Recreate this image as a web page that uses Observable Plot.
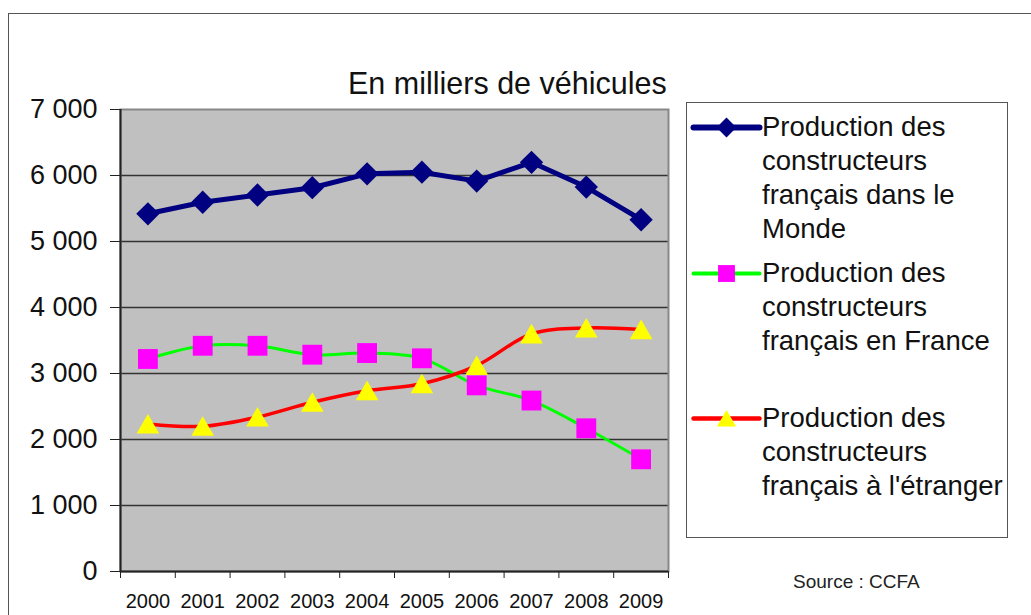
<!DOCTYPE html>
<html>
<head>
<meta charset="utf-8">
<script src="https://cdn.jsdelivr.net/npm/d3@7"></script>
<script src="https://cdn.jsdelivr.net/npm/@observablehq/plot@0.6"></script>
<style>
  html, body { margin: 0; padding: 0; background: #fff; }
  body { font-family: "Liberation Sans", Arial, sans-serif; color: #111; }
  #wrap { position: relative; width: 1031px; height: 615px; overflow: hidden; }
  #frame { position: absolute; left: 8px; top: 13px; width: 1100px; height: 700px;
           border-left: 1.5px solid #555; border-top: 1.5px solid #555; }
  #chart { position: absolute; left: 0; top: 0; width: 1031px; height: 615px; }
  #chart svg { max-width: none; }
  #title { position: absolute; left: 348px; top: 66px; font-size: 30.5px; line-height: 34px; white-space: nowrap; }
  #legend { position: absolute; left: 686px; top: 102px; width: 322px; height: 436px;
            border: 1.5px solid #555; box-sizing: border-box; }
  .entry { position: absolute; left: 0; width: 320px; height: 140px; }
  .entry svg { position: absolute; left: 6px; top: 0; max-width: none; }
  .entry .txt { position: absolute; left: 75px; top: 0; font-size: 27.5px; line-height: 34px; white-space: nowrap; }
  #source { position: absolute; left: 793px; top: 571px; font-size: 19px; line-height: 22px; color: #222; white-space: nowrap; }
</style>
</head>
<body>
<div id="wrap">
  <div id="frame"></div>
  <div id="chart"></div>
  <div id="title"></div>
  <div id="legend"></div>
  <div id="source"></div>
</div>
<script>
// ---- data ----
const years = [2000, 2001, 2002, 2003, 2004, 2005, 2006, 2007, 2008, 2009];
const monde = [5420, 5595, 5705, 5815, 6025, 6050, 5915, 6200, 5825, 5330];
const france = [3220, 3420, 3420, 3285, 3310, 3230, 2820, 2590, 2170, 1700];
const etranger = [2235, 2200, 2340, 2565, 2740, 2845, 3120, 3600, 3690, 3665];
const yTicks = [0, 1000, 2000, 3000, 4000, 5000, 6000, 7000];
const seriesNames = [
  "Production des constructeurs français dans le Monde",
  "Production des constructeurs français en France",
  "Production des constructeurs français à l'étranger"
];
const legendLines = [
  ["Production des", "constructeurs", "français dans le", "Monde"],
  ["Production des", "constructeurs", "français en France"],
  ["Production des", "constructeurs", "français à l'étranger"]
];
const titleText = "En milliers de véhicules";
const sourceText = "Source : CCFA";

// ---- styles ----
const styles = [
  {stroke: "#000080", strokeWidth: 5, symbol: "diamond2", fill: "#000080", r: 10.5, curve: "linear", dy: 0},
  {stroke: "#00ff00", strokeWidth: 3, symbol: "square", fill: "#ff00ff", r: 11.2, curve: "catmull-rom", dy: 0},
  {stroke: "#ff0000", strokeWidth: 3.5, symbol: "triangle", fill: "#ffff00", r: 8.4, curve: "catmull-rom", dy: 3}
];

const seriesValues = [monde, france, etranger];
const tables = seriesValues.map((vals, i) => years.map((y, j) => ({year: y, value: vals[j], series: seriesNames[i]})));

const xmin = d3.min(years) - 0.5, xmax = d3.max(years) + 0.5;
const boundaries = d3.range(xmin, xmax + 0.01, 1);
const fmt = d => d3.format(",")(d).replace(/,/g, " ");

const marks = [
  Plot.frame({fill: "#c0c0c0"}),
  Plot.gridY(yTicks.filter(t => t > 0 && t < d3.max(yTicks)), {stroke: "#333", strokeOpacity: 1, strokeWidth: 1.6}),
  Plot.frame({stroke: "#888", strokeWidth: 2}),
  Plot.ruleX([xmin], {stroke: "#222", strokeWidth: 2}),
  Plot.ruleY([0], {stroke: "#222", strokeWidth: 2}),
  Plot.axisY(yTicks, {label: null, tickSize: 10, tickPadding: 13, tickFormat: fmt, fontSize: 27, stroke: "#222", fill: "#111"}),
  Plot.axisX(boundaries, {label: null, tickSize: 7, tickFormat: () => "", stroke: "#222"}),
  Plot.axisX(years, {label: null, tickSize: 0, tickPadding: 22, tickFormat: d => String(d), fontSize: 20, fill: "#111"})
];
tables.forEach((t, i) => {
  const s = styles[i];
  marks.push(Plot.line(t, {x: "year", y: "value", stroke: s.stroke, strokeWidth: s.strokeWidth, curve: s.curve}));
});
tables.forEach((t, i) => {
  const s = styles[i];
  marks.push(Plot.dot(t, {x: "year", y: "value", symbol: () => s.symbol, fill: s.fill, stroke: "none", r: s.r, dy: s.dy}));
});

const chart = Plot.plot({
  width: 1031,
  height: 615,
  marginLeft: 120,
  marginRight: 363,
  marginTop: 109,
  marginBottom: 44,
  style: {fontFamily: "'Liberation Sans', Arial, sans-serif", background: "transparent", overflow: "visible", color: "#111", maxWidth: "none"},
  x: {domain: [xmin, xmax], axis: null, label: null},
  y: {domain: [d3.min(yTicks), d3.max(yTicks)], axis: null, label: null},
  symbol: {type: "identity"},
  marks
});
document.getElementById("chart").appendChild(chart);

document.getElementById("title").textContent = titleText;
document.getElementById("source").textContent = sourceText;

// ---- legend ----
const legend = document.getElementById("legend");
const entryTops = [7, 153, 298];
legendLines.forEach((lines, i) => {
  const s = styles[i];
  const e = document.createElement("div");
  e.className = "entry";
  e.style.top = entryTops[i] + "px";
  const sw = Plot.plot({
    width: 66, height: 34, margin: 0,
    x: {domain: [0, 2], axis: null}, y: {domain: [0, 1], axis: null},
    symbol: {type: "identity"},
    style: {background: "transparent", overflow: "visible", maxWidth: "none"},
    marks: [
      Plot.line([{x: 0, y: 0.5}, {x: 2, y: 0.5}], {x: "x", y: "y", stroke: s.stroke, strokeWidth: s.strokeWidth + 1, strokeLinecap: "round"}),
      Plot.dot([{x: 1, y: 0.5}], {x: "x", y: "y", symbol: () => s.symbol, fill: s.fill, r: s.r * 0.85, dy: s.dy * 0.85})
    ]
  });
  sw.style.maxWidth = "none";
  e.appendChild(sw);
  const txt = document.createElement("div");
  txt.className = "txt";
  txt.innerHTML = lines.map(l => l.replace(/&/g, "&amp;").replace(/</g, "&lt;")).join("<br>");
  e.appendChild(txt);
  legend.appendChild(e);
});
</script>
</body>
</html>
